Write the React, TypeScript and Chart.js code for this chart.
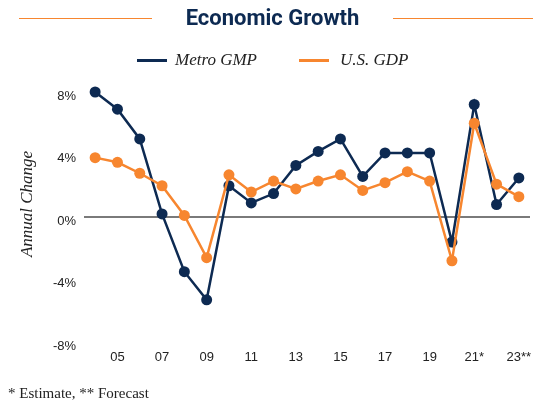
import React, { useEffect, useRef } from "react";
import { Chart, registerables } from "chart.js";

Chart.register(...registerables);

const years = ["2004","2005","2006","2007","2008","2009","2010","2011","2012","2013","2014","2015","2016","2017","2018","2019","2020","2021","2022","2023"];
const tickLabels: Record<string, string> = {
  "2005": "05", "2007": "07", "2009": "09", "2011": "11", "2013": "13",
  "2015": "15", "2017": "17", "2019": "19", "2021": "21*", "2023": "23**",
};
const metroGMP = [8.0, 6.9, 5.0, 0.2, -3.5, -5.3, 2.0, 0.9, 1.5, 3.3, 4.2, 5.0, 2.6, 4.1, 4.1, 4.1, -1.6, 7.2, 0.8, 2.5];
const usGDP = [3.8, 3.5, 2.8, 2.0, 0.1, -2.6, 2.7, 1.6, 2.3, 1.8, 2.3, 2.7, 1.7, 2.2, 2.9, 2.3, -2.8, 6.0, 2.1, 1.3];
const yTicks = [-8, -4, 0, 4, 8];

const NAVY = "#0d2a52";
const ORANGE = "#f7862f";
const SERIF = "'Liberation Serif', 'Times New Roman', serif";
const SANS = "'Liberation Sans', Arial, sans-serif";

const yTitlePlugin = {
  id: "yTitle",
  afterDraw(chart: any) {
    const ctx = chart.ctx;
    ctx.save();
    ctx.translate(32, 204);
    ctx.rotate(-Math.PI / 2);
    ctx.font = `italic 17px ${SERIF}`;
    ctx.fillStyle = "#222";
    ctx.textAlign = "center";
    ctx.textBaseline = "alphabetic";
    ctx.fillText("Annual Change", 0, 0);
    ctx.restore();
  },
};

export default function App() {
  const ref = useRef<HTMLCanvasElement | null>(null);
  useEffect(() => {
    if (!ref.current) return;
    const chart = new Chart(ref.current, {
      type: "line",
      data: {
        labels: years,
        datasets: [
          {
            label: "Metro GMP",
            data: metroGMP,
            borderColor: NAVY,
            backgroundColor: NAVY,
            pointBackgroundColor: NAVY,
            pointBorderColor: NAVY,
            borderWidth: 2.5,
            pointRadius: 5.5,
            pointBorderWidth: 0,
            tension: 0,
            order: 1,
            clip: false as any,
          },
          {
            label: "U.S. GDP",
            data: usGDP,
            borderColor: ORANGE,
            backgroundColor: ORANGE,
            pointBackgroundColor: ORANGE,
            pointBorderColor: ORANGE,
            borderWidth: 2.5,
            pointRadius: 5.5,
            pointBorderWidth: 0,
            tension: 0,
            order: 0,
            clip: false as any,
          },
        ],
      },
      options: {
        responsive: false,
        animation: false,
        layout: { autoPadding: false, padding: { top: 92, left: 0, right: 3, bottom: 30 } },
        plugins: {
          legend: { display: false },
          title: { display: false },
          tooltip: { enabled: false },
        },
        scales: {
          x: {
            type: "category",
            offset: true,
            grid: { display: false, drawTicks: false },
            border: { display: false },
            afterFit: (s: any) => { s.height = 30; s.paddingLeft = 0; s.paddingRight = 0; },
            ticks: {
              autoSkip: false,
              maxRotation: 0,
              padding: 8,
              color: "#222",
              font: { family: SANS, size: 13 },
              callback: (_v: any, i: number) => tickLabels[years[i]] ?? "",
            },
          },
          y: {
            min: -8,
            max: 8,
            afterFit: (s: any) => { s.width = 84; s.paddingTop = 0; s.paddingBottom = 0; },
            afterBuildTicks: (s: any) => { s.ticks = yTicks.map((v) => ({ value: v })); },
            grid: {
              drawTicks: false,
              color: (c: any) => (c.tick && c.tick.value === 0 ? "#7a7a7a" : "rgba(0,0,0,0)"),
              lineWidth: (c: any) => (c.tick && c.tick.value === 0 ? 2 : 0),
            },
            border: { display: false },
            ticks: {
              padding: 8,
              labelOffset: 4,
              color: "#222",
              font: { family: SANS, size: 13 },
              callback: (v: any) => `${v}%`,
            },
          },
        },
      },
      plugins: [yTitlePlugin],
    });
    return () => chart.destroy();
  }, []);

  return (
    <div style={{ position: "fixed", left: 0, top: 0, width: 533, height: 402, background: "#fff", overflow: "hidden" }}>
      <canvas ref={ref} width={533} height={402} style={{ position: "absolute", left: 0, top: 0, width: 533, height: 402 }} />
      <div style={{ position: "absolute", left: 19, top: 17.5, width: 133, height: 1.5, background: ORANGE }} />
      <div style={{ position: "absolute", left: 393, top: 17.5, width: 140, height: 1.5, background: ORANGE }} />
      <div style={{ position: "absolute", left: 152, width: 241, top: 7, height: 22, lineHeight: "22px", textAlign: "center", fontFamily: "Roboto, sans-serif", fontWeight: 700, fontSize: 22, color: NAVY }}>
        Economic Growth
      </div>
      <div style={{ position: "absolute", left: 137, top: 58.5, width: 30, height: 3, background: NAVY }} />
      <div style={{ position: "absolute", left: 175, top: 50, height: 20, lineHeight: "20px", fontFamily: SERIF, fontStyle: "italic", fontSize: 17, color: "#222", whiteSpace: "nowrap" }}>
        Metro GMP
      </div>
      <div style={{ position: "absolute", left: 299, top: 58.5, width: 30, height: 3, background: ORANGE }} />
      <div style={{ position: "absolute", left: 340, top: 50, height: 20, lineHeight: "20px", fontFamily: SERIF, fontStyle: "italic", fontSize: 17, color: "#222", whiteSpace: "nowrap" }}>
        U.S. GDP
      </div>
      <div style={{ position: "absolute", left: 8, top: 384, height: 18, lineHeight: "18px", fontFamily: SERIF, fontSize: 15, color: "#222", whiteSpace: "nowrap" }}>
        * Estimate, ** Forecast
      </div>
    </div>
  );
}
